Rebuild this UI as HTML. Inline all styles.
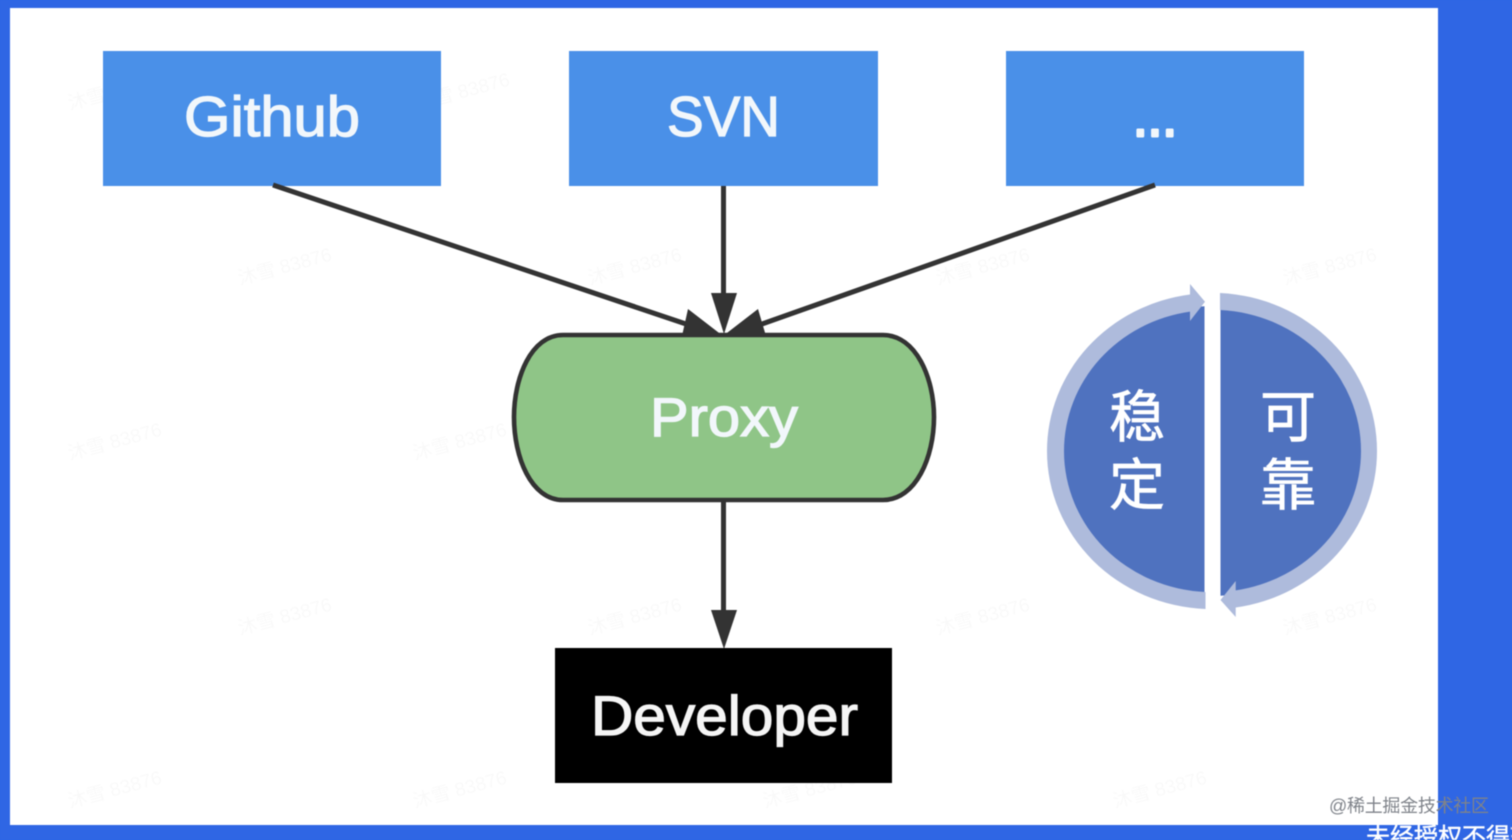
<!DOCTYPE html>
<html>
<head>
<meta charset="utf-8">
<style>
html,body{margin:0;padding:0;width:1512px;height:840px;overflow:hidden;background:#2f66e4}
svg{display:block;filter:blur(.45px)}
text{font-family:"Liberation Sans","Noto Sans CJK SC",sans-serif}
.wm{font-size:19px;fill:#000;fill-opacity:.022}
.lbl{fill:#f2f7fb;font-size:57px;stroke:#f2f7fb;stroke-width:1.3px}
.cjk{fill:#fff;font-size:56px;text-anchor:middle;stroke:#fff;stroke-width:.7px}
</style>
</head>
<body>
<svg width="1512" height="840" viewBox="0 0 1512 840" xmlns="http://www.w3.org/2000/svg">
<rect width="1512" height="840" fill="#2f66e4"/>
<rect x="10" y="8" width="1428" height="817" fill="#ffffff"/>

<g class="wm">
<text class="wm" transform="translate(70,110) rotate(-15)">沐雪 83876</text>
<text class="wm" transform="translate(418,110) rotate(-15)">沐雪 83876</text>
<text class="wm" transform="translate(240,285) rotate(-15)">沐雪 83876</text>
<text class="wm" transform="translate(590,285) rotate(-15)">沐雪 83876</text>
<text class="wm" transform="translate(938,285) rotate(-15)">沐雪 83876</text>
<text class="wm" transform="translate(1285,285) rotate(-15)">沐雪 83876</text>
<text class="wm" transform="translate(70,460) rotate(-15)">沐雪 83876</text>
<text class="wm" transform="translate(415,460) rotate(-15)">沐雪 83876</text>
<text class="wm" transform="translate(240,635) rotate(-15)">沐雪 83876</text>
<text class="wm" transform="translate(590,635) rotate(-15)">沐雪 83876</text>
<text class="wm" transform="translate(938,635) rotate(-15)">沐雪 83876</text>
<text class="wm" transform="translate(1285,635) rotate(-15)">沐雪 83876</text>
<text class="wm" transform="translate(70,808) rotate(-15)">沐雪 83876</text>
<text class="wm" transform="translate(415,808) rotate(-15)">沐雪 83876</text>
<text class="wm" transform="translate(765,808) rotate(-15)">沐雪 83876</text>
<text class="wm" transform="translate(1115,808) rotate(-15)">沐雪 83876</text>
</g>

<!-- source boxes -->
<rect x="103" y="51" width="338" height="135" fill="#4a90e8"/>
<rect x="569" y="51" width="309" height="135" fill="#4a90e8"/>
<rect x="1006" y="51" width="298" height="135" fill="#4a90e8"/>
<text class="lbl" x="184" y="136" textLength="176" lengthAdjust="spacingAndGlyphs">Github</text>
<text class="lbl" x="667" y="136" textLength="113" lengthAdjust="spacingAndGlyphs">SVN</text>
<text class="lbl" x="1133" y="136" textLength="44" lengthAdjust="spacingAndGlyphs" style="stroke-width:3px;stroke-linejoin:round">...</text>

<!-- connectors -->
<g stroke="#333333" stroke-width="5" fill="none">
<line x1="273" y1="185" x2="686" y2="324"/>
<line x1="723.5" y1="186" x2="723.5" y2="296"/>
<line x1="1155" y1="185" x2="762" y2="324"/>
<line x1="723.5" y1="500" x2="723.5" y2="612"/>
</g>

<!-- proxy -->
<path d="M563 335 H883 C916 335 934 378 934 417 C934 457 916 500 883 500 H563 C531 500 514 457 514 417 C514 378 531 335 563 335 Z" fill="#8fc587" stroke="#333333" stroke-width="4.6"/>

<g fill="#333333">
<polygon points="723,336 688,309 682,336"/>
<polygon points="723,336 758,309 766,336"/>
<polygon points="711,293 737,293 724,334"/>
<polygon points="711,610 737,610 724,649"/>
</g>

<text class="lbl" x="650" y="436" textLength="148" lengthAdjust="spacingAndGlyphs" style="font-size:55px">Proxy</text>

<!-- developer -->
<rect x="555" y="648" width="337" height="135" fill="#000000"/>
<text class="lbl" x="591" y="735" textLength="267" lengthAdjust="spacingAndGlyphs" style="font-size:56px;fill:#f5f5f5;stroke:#f5f5f5">Developer</text>

<!-- cycle -->
<path d="M1204.5 306.2 A152 145 0 0 0 1204.5 595.8 Z" fill="#4f72bf"/>
<path d="M1220.5 306.2 A152 145 0 0 1 1220.5 595.8 Z" fill="#4f72bf"/>
<path d="M1205.5 609 A165 158 0 0 1 1047 451 A165 158 0 0 1 1190 294.5 L1190 284 L1205 301.7 L1190 321 L1190 311.6 A148 141 0 0 0 1064 451 A148 141 0 0 0 1205.5 592 Z" fill="#aebbdc"/>
<path d="M1220 293 A165 158 0 0 1 1377 451 A165 158 0 0 1 1235.7 607.5 L1235.7 617 L1220.5 600 L1235.7 581 L1235.7 590.4 A148 141 0 0 0 1361 451 A148 141 0 0 0 1220 310 Z" fill="#aebbdc"/>
<text class="cjk" x="1137" y="437">稳</text>
<text class="cjk" x="1137" y="505">定</text>
<text class="cjk" x="1288" y="437">可</text>
<text class="cjk" x="1288" y="505">靠</text>

<!-- footer marks -->
<text x="1329" y="812" font-size="18" fill="#7f838a" textLength="160">@稀土掘金技术社区</text>
<text x="1366" y="845" font-size="24" fill="#ffffff" stroke="#ffffff" stroke-width=".4">未经授权不得转载</text>
</svg>
</body>
</html>
